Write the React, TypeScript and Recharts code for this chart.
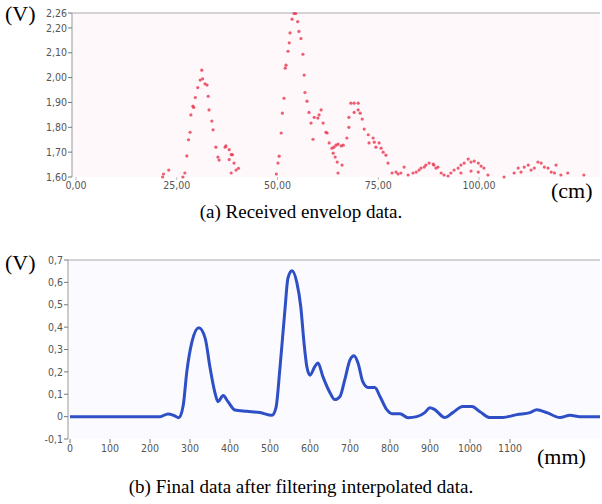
import React from 'react'
import {
  ScatterChart, Scatter, ComposedChart, Line, XAxis, YAxis, CartesianGrid, ReferenceLine,
} from 'recharts'

// (a) received envelope samples, [cm, V]
const peakA: [number, number][] = [
  [21.5, 1.60], [21.7, 1.612], [23, 1.628], [26.5, 1.60], [27, 1.616], [27.5, 1.685], [27.9, 1.75],
  [28.3, 1.78], [28.5, 1.85], [29, 1.885], [29.2, 1.88], [29.6, 1.92], [30.2, 1.96], [30.8, 1.99],
  [31.2, 2.03], [31.4, 1.995], [32, 1.975], [32.5, 1.97], [32.8, 1.925], [33, 1.87], [33.7, 1.825],
  [34, 1.79], [34.7, 1.72], [35.2, 1.68], [35.5, 1.668], [37, 1.72], [37.2, 1.725], [38, 1.71],
  [38.5, 1.69], [38.8, 1.69], [38, 1.67], [39.2, 1.656], [38.5, 1.616], [39.7, 1.628], [40.3, 1.635],
]
const peakB: [number, number][] = [
  [49.7, 1.612], [50.1, 1.656], [50.4, 1.684], [50.9, 1.777], [51.2, 1.857], [51.6, 1.917],
  [51.9, 2.038], [52.1, 2.05], [52.6, 2.106], [52.9, 2.14], [53.1, 2.18], [53.6, 2.235],
  [54.1, 2.258], [54.5, 2.258], [55, 2.225], [55.3, 2.186], [55.8, 2.157], [56.3, 2.094],
  [56.6, 2.01], [56.8, 1.94], [57.3, 1.905], [57.8, 1.86], [58.3, 1.817], [58.8, 1.752],
  [59.1, 1.84], [60, 1.837], [60.3, 1.85], [60.8, 1.87], [61.3, 1.817], [62, 1.78], [62.3, 1.777],
  [62.8, 1.737], [63.5, 1.716], [63.8, 1.696], [64, 1.72], [64.3, 1.68], [64.5, 1.728],
  [64.8, 1.66], [65, 1.732], [65, 1.616], [65.8, 1.725], [66, 1.648], [66.3, 1.728],
  [67.2, 1.757], [67.7, 1.8], [67.7, 1.84], [68.2, 1.897], [69, 1.897], [70, 1.897], [69, 1.86],
  [70, 1.87], [70.5, 1.857], [71, 1.833], [71.5, 1.793], [72.5, 1.77], [72.7, 1.737], [73.7, 1.757],
  [74, 1.74], [74.4, 1.72], [75.2, 1.737], [75.7, 1.716], [76.2, 1.70], [76.9, 1.688], [77.4, 1.656],
]
const tailPoints: [number, number][] = [
  [78.4, 1.616], [79.4, 1.62], [79.9, 1.612], [80.6, 1.616], [81.4, 1.64], [82.4, 1.608],
  [83.6, 1.616], [84.4, 1.62], [85.1, 1.628], [85.6, 1.636], [86.4, 1.64], [86.8, 1.648],
  [87.6, 1.656], [88.6, 1.652], [88.8, 1.648], [89.3, 1.636], [89.8, 1.64], [90.6, 1.616],
  [91.3, 1.608], [92.3, 1.604], [93, 1.616], [93.8, 1.628], [94.8, 1.636], [95.5, 1.648],
  [96.3, 1.656], [97.3, 1.672], [98, 1.66], [98.8, 1.664], [99.8, 1.656], [100.5, 1.644],
  [101.2, 1.636], [102.2, 1.608], [95.5, 1.616], [98, 1.624], [99.8, 1.62],
  [106.2, 1.60], [108.7, 1.616], [109.7, 1.636], [110.4, 1.62], [111.2, 1.64], [112.2, 1.648],
  [112.9, 1.628], [113.7, 1.636], [114.6, 1.66], [115.4, 1.656], [116.2, 1.64], [117.1, 1.636],
  [117.9, 1.62], [118.7, 1.616], [119.1, 1.648], [120.3, 1.608], [122, 1.616], [126, 1.608],
]
const topXTicks = [0, 25, 50, 75, 100]
const topYTicks = [1.6, 1.7, 1.8, 1.9, 2.0, 2.1, 2.2, 2.26]

// (b) filtered data
const positionsMm = [0, 100, 200, 225, 245, 260, 272, 283, 292, 305, 322, 338, 350, 362, 370, 383, 395, 412, 442, 475, 505, 515, 525, 537, 545, 555, 567, 577, 585, 592, 600, 612, 620, 632, 650, 662, 675, 687, 700, 710, 720, 732, 745, 762, 775, 792, 805, 825, 845, 867, 887, 900, 912, 937, 957, 982, 1005, 1025, 1050, 1082, 1117, 1150, 1167, 1192, 1225, 1250, 1275, 1325]
const filteredV = [0, 0, 0, 0, 0.012, 0.005, -0.005, 0.05, 0.2, 0.335, 0.397, 0.35, 0.22, 0.11, 0.067, 0.094, 0.067, 0.03, 0.024, 0.018, 0.006, 0.04, 0.22, 0.47, 0.62, 0.652, 0.6, 0.49, 0.33, 0.224, 0.185, 0.224, 0.24, 0.18, 0.107, 0.076, 0.09, 0.165, 0.254, 0.272, 0.24, 0.156, 0.13, 0.13, 0.09, 0.031, 0.013, 0.013, -0.005, 0, 0.018, 0.04, 0.031, -0.004, 0.018, 0.045, 0.045, 0.022, -0.004, -0.004, 0.009, 0.018, 0.031, 0.018, -0.004, 0.006, 0, 0]
const bottomXTicks = [0, 100, 200, 300, 400, 500, 600, 700, 800, 900, 1000, 1100]
const bottomYTicks = [-0.1, 0, 0.1, 0.2, 0.3, 0.4, 0.5, 0.6, 0.7]

const toPts = (arr: [number, number][]) => arr.map(([x, v]) => ({ x, v }))
const filtered = positionsMm.map((mm, i) => ({ mm, v: filteredV[i] }))

const comma2 = (n: number) => n.toFixed(2).replace('.', ',')
const comma1 = (n: number) => (n === 0 ? '0' : n.toFixed(1).replace('.', ','))

const tickFont = { fontSize: 10.5, fill: '#555', fontFamily: '"DejaVu Sans Condensed", "Liberation Sans", sans-serif' }
const serif = '"Liberation Serif", "Times New Roman", serif'

const Dot = (props: any) => (
  <circle cx={props.cx} cy={props.cy} r={1.6} fill="#e8364f" fillOpacity={0.8} />
)

export default function App() {
  return (
    <div style={{ position: 'absolute', left: 0, top: 0, width: 602, height: 504, background: '#fff', fontFamily: serif }}>
      <div style={{ position: 'absolute', left: 0, top: 0 }}>
        <ScatterChart width={602} height={200} margin={{ top: 13, right: 2, left: 0, bottom: 0 }}>
          <CartesianGrid horizontal={false} vertical={false} fill="#fff8fb" />
          <XAxis type="number" dataKey="x" domain={[-1, 130]} ticks={topXTicks} tickFormatter={comma2} interval={0}
            axisLine={false} tickLine={{ stroke: '#bbb' }} tickSize={3} height={23} tick={tickFont} />
          <YAxis type="number" dataKey="v" domain={[1.6, 2.26]} ticks={topYTicks} tickFormatter={comma2} interval={0}
            width={72} axisLine={{ stroke: '#999' }} tickLine={{ stroke: '#777' }} tickSize={4} tickMargin={1} tick={tickFont} />
          <ReferenceLine y={2.26} stroke="#aaa" strokeWidth={1} />
          {[peakA, peakB, tailPoints].map((pts, i) => (
            <Scatter key={i} data={toPts(pts)} shape={Dot} isAnimationActive={false} />
          ))}
        </ScatterChart>
      </div>
      <div style={{ position: 'absolute', left: 5, top: 1, fontSize: 22 }}>(V)</div>
      <div style={{ position: 'absolute', left: 551, top: 178, fontSize: 22 }}>(cm)</div>
      <div style={{ position: 'absolute', left: 0, width: 602, top: 201, fontSize: 19, textAlign: 'center' }}>
        (a) Received envelop data.
      </div>

      <div style={{ position: 'absolute', left: 0, top: 245 }}>
        <ComposedChart width={602} height={220} data={filtered} margin={{ top: 15, right: 2, left: 0, bottom: 0 }}>
          <CartesianGrid horizontal={false} vertical={false} fill="#fbfbff" />
          <XAxis type="number" dataKey="mm" domain={[-5, 1325]} ticks={bottomXTicks} interval={0}
            axisLine={false} tickLine={{ stroke: '#777' }} tickSize={4} height={26} tick={tickFont} />
          <YAxis type="number" domain={[-0.1, 0.7]} ticks={bottomYTicks} tickFormatter={comma1} interval={0}
            width={68} axisLine={{ stroke: '#999' }} tickLine={{ stroke: '#777' }} tickSize={4} tickMargin={1} tick={tickFont} />
          <ReferenceLine y={0.7} stroke="#aaa" strokeWidth={1} />
          <Line type="monotone" dataKey="v" stroke="#2e4fc6" strokeWidth={3} dot={false} isAnimationActive={false} />
        </ComposedChart>
      </div>
      <div style={{ position: 'absolute', left: 5, top: 250, fontSize: 22 }}>(V)</div>
      <div style={{ position: 'absolute', left: 537, top: 444, fontSize: 22 }}>(mm)</div>
      <div style={{ position: 'absolute', left: 0, width: 602, top: 476, fontSize: 19, textAlign: 'center' }}>
        (b) Final data after filtering interpolated data.
      </div>
    </div>
  )
}
